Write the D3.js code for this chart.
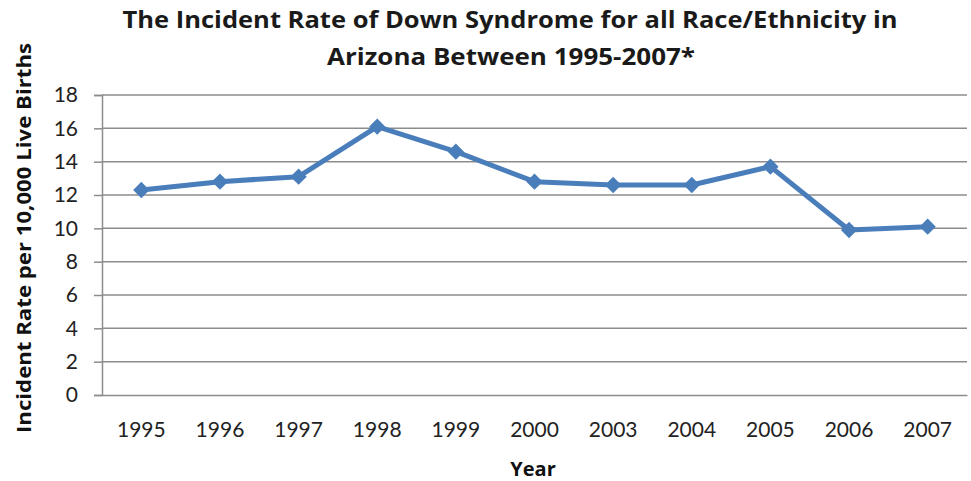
<!DOCTYPE html>
<html><head><meta charset="utf-8">
<script src="https://cdn.jsdelivr.net/npm/d3@7"></script>
<style>body{margin:0;background:#fff}svg{display:block}</style>
</head><body>
<script>
const years = ["1995","1996","1997","1998","1999","2000","2003","2004","2005","2006","2007"];
const rates = [12.3, 12.8, 13.1, 16.1, 14.6, 12.8, 12.6, 12.6, 13.7, 9.9, 10.1];
const yTicks = [0,2,4,6,8,10,12,14,16,18];
const titleLines = ["The Incident Rate of Down Syndrome for all Race/Ethnicity in", "Arizona Between 1995-2007*"];
const xTitle = "Year";
const yTitle = "Incident Rate  per 10,000 Live Births";

const W = 971, H = 481;
const m = {left:102, right:4, top:95, bottom:86};
const svg = d3.select("body").append("svg").attr("width",W).attr("height",H);
const font = "Lato, 'Open Sans', sans-serif";
const tfont = "'Open Sans', Lato, sans-serif";

const x = d3.scaleBand().domain(years).range([m.left, W-m.right]);
const y = d3.scaleLinear().domain([0,18]).range([H-m.bottom, m.top]);

// gridlines
svg.append("g").selectAll("line").data(yTicks.filter(d=>d>0)).join("line")
  .attr("x1", m.left).attr("x2", W-m.right)
  .attr("y1", d=>y(d)).attr("y2", d=>y(d))
  .attr("stroke","#8c8c8c").attr("stroke-width",1.5);

// y axis
const ya = svg.append("g").attr("transform",`translate(${m.left},0)`)
  .call(d3.axisLeft(y).tickValues(yTicks).tickSize(8).tickPadding(16));
ya.select(".domain").attr("stroke","#8c8c8c").attr("stroke-width",1.5);
ya.selectAll(".tick line").attr("stroke","#8c8c8c").attr("stroke-width",1.5);
ya.selectAll("text").attr("font-family",font).attr("font-size",21).attr("fill","#222");

// x axis
const xa = svg.append("g").attr("transform",`translate(0,${y(0)})`)
  .call(d3.axisBottom(x).tickSize(0).tickPadding(27));
xa.select(".domain").attr("stroke","#8c8c8c").attr("stroke-width",1.5);
xa.selectAll("text").attr("font-family",font).attr("font-size",21).attr("fill","#222");

// line
const cx = d=>x(d)+x.bandwidth()/2;
svg.append("path").datum(years.map((yr,i)=>[cx(yr), y(rates[i])]))
  .attr("d", d3.line())
  .attr("fill","none").attr("stroke","#4a7ebb").attr("stroke-width",5)
  .attr("stroke-linejoin","round");

svg.append("g").selectAll("path").data(years).join("path")
  .attr("transform",(d,i)=>`translate(${cx(d)},${y(rates[i])})`)
  .attr("d", d3.symbol(d3.symbolDiamond2, 170))
  .attr("fill","#4a7ebb");

// titles
const tl = [{x:510,y:28,w:775},{x:511,y:65,w:368}];
svg.append("g").selectAll("text").data(titleLines).join("text")
  .attr("x",(d,i)=>tl[i].x).attr("y",(d,i)=>tl[i].y)
  .attr("text-anchor","middle")
  .attr("font-family",tfont).attr("font-weight","bold").attr("font-size",23)
  .attr("textLength",(d,i)=>tl[i].w).attr("lengthAdjust","spacingAndGlyphs")
  .attr("fill","#1a1a1a").text(d=>d);

svg.append("text").attr("x",533).attr("y",476).attr("text-anchor","middle")
  .attr("font-family",tfont).attr("font-weight","bold").attr("font-size",20)
  .attr("fill","#111").text(xTitle);

svg.append("text").attr("transform","translate(31,238) rotate(-90)")
  .attr("text-anchor","middle")
  .attr("font-family",tfont).attr("font-weight","bold").attr("font-size",19)
  .attr("textLength",390).attr("lengthAdjust","spacingAndGlyphs")
  .attr("fill","#111").text(yTitle);
</script>
</body></html>
